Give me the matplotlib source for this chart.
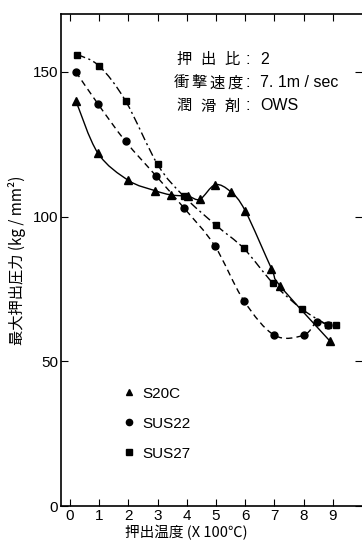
import matplotlib
matplotlib.use("Agg")
import matplotlib.pyplot as plt
from matplotlib.path import Path
from matplotlib.patches import PathPatch
from matplotlib.lines import Line2D

plt.rcParams['font.family'] = ['Liberation Sans Narrow', 'Liberation Sans', 'Noto Sans CJK JP', 'DejaVu Sans']
CJK = ['Noto Sans CJK JP', 'DejaVu Sans']
LAT = ['Liberation Sans', 'DejaVu Sans']

# ---- data ----
s20c_x = [0.2, 0.95, 2.0, 2.9, 3.45, 4.05, 4.45, 4.97, 5.5, 6.0, 6.9, 7.2, 8.9]
s20c_y = [140, 122, 112.5, 109, 107.5, 107, 106, 111, 108.6, 102, 82, 76, 57]

sus22_x = [0.2, 0.95, 1.9, 2.95, 3.9, 4.95, 5.95, 7.0, 8.0, 8.45, 8.85]
sus22_y = [150, 139, 126, 114, 103, 90, 71, 59, 59, 63.5, 62.5]

sus27_x = [0.25, 1.0, 1.9, 3.0, 3.9, 5.0, 5.95, 6.95, 7.95, 8.85, 9.1]
sus27_y = [156, 152, 140, 118, 107, 97, 89, 77, 68, 62.5, 62.5]

labels = ['S20C', 'SUS22', 'SUS27']
xticks = [0, 1, 2, 3, 4, 5, 6, 7, 8, 9]
yticks = [0, 50, 100, 150]

fig = plt.figure(figsize=(3.62, 5.43), dpi=100)
ax = fig.add_axes([61/362, 1-506/543, 1-61/362, (506-14)/543])
ax.set_xlim(-0.31, 10.0)
ax.set_ylim(0, 170)


def smooth_path(xs, ys):
    pts = list(zip(xs, ys))
    n = len(pts)
    verts = [pts[0]]
    codes = [Path.MOVETO]
    for i in range(n - 1):
        p0 = pts[i - 1] if i > 0 else pts[i]
        p1 = pts[i]
        p2 = pts[i + 1]
        p3 = pts[i + 2] if i + 2 < n else pts[i + 1]
        c1 = (p1[0] + (p2[0] - p0[0]) / 6, p1[1] + (p2[1] - p0[1]) / 6)
        c2 = (p2[0] - (p3[0] - p1[0]) / 6, p2[1] - (p3[1] - p1[1]) / 6)
        verts += [c1, c2, p2]
        codes += [Path.CURVE4] * 3
    return Path(verts, codes)


series = [
    (s20c_x, s20c_y, '^', '-', 6),
    (sus22_x, sus22_y, 'o', (0, (4.5, 3)), 5),
    (sus27_x, sus27_y, 's', (0, (6, 2.5, 1.5, 2.5)), 5),
]
for xs, ys, m, ls, ms in series:
    patch = PathPatch(smooth_path(xs, ys), fill=False, edgecolor='black',
                      linewidth=1.0, linestyle=ls, transform=ax.transData)
    ax.add_patch(patch)
    ax.plot(xs, ys, linestyle='none', marker=m, markersize=ms, color='black')

ax.set_xticks(xticks)
ax.set_yticks(yticks)
ax.tick_params(direction='in', length=5, width=0.8, top=True, right=True,
               labelsize=11, pad=2)
ax.spines['right'].set_visible(False)
for s in ['left', 'bottom', 'top']:
    ax.spines[s].set_linewidth(1.2)

# y label
ax.text(-0.145, 0.5, '最大押出圧力 (kg / mm²)', rotation=90, transform=ax.transAxes,
        ha='center', va='center', fontsize=11, family=CJK)
# x label
fig.text(186/362, 1-533/543, '押出温度 (X 100℃)', ha='center', va='center',
         fontsize=10.5, family=CJK)

# condition text
def spread(label, x0, x1, y):
    n = len(label)
    w = (x1 - x0) / n
    for i, ch in enumerate(label):
        fig.text((x0 + w * (i + 0.5)) / 362, 1 - y / 543, ch, ha='center',
                 va='center', fontsize=11, family=CJK)

rows = [('押出比', '2', 60), ('衝撃速度', '7. 1m / sec', 83), ('潤滑剤', 'OWS', 106)]
for lab, val, y in rows:
    spread(lab, 172, 244, y)
    fig.text(248 / 362, 1 - y / 543, ':', ha='center', va='center', fontsize=12,
             family=LAT)
    fig.text(260 / 362, 1 - y / 543, val, ha='left', va='center', fontsize=11.5,
             family=LAT)

handles = [Line2D([], [], linestyle='none', marker='^', color='black', markersize=5),
           Line2D([], [], linestyle='none', marker='o', color='black', markersize=4.5),
           Line2D([], [], linestyle='none', marker='s', color='black', markersize=4.5)]
leg = ax.legend(handles, labels, loc='upper left', bbox_to_anchor=(0.18, 0.255),
                frameon=False, fontsize=11, handlelength=1.0, handletextpad=0.4,
                labelspacing=1.05, borderaxespad=0)

fig.savefig('out.png', dpi=100, facecolor='white')
